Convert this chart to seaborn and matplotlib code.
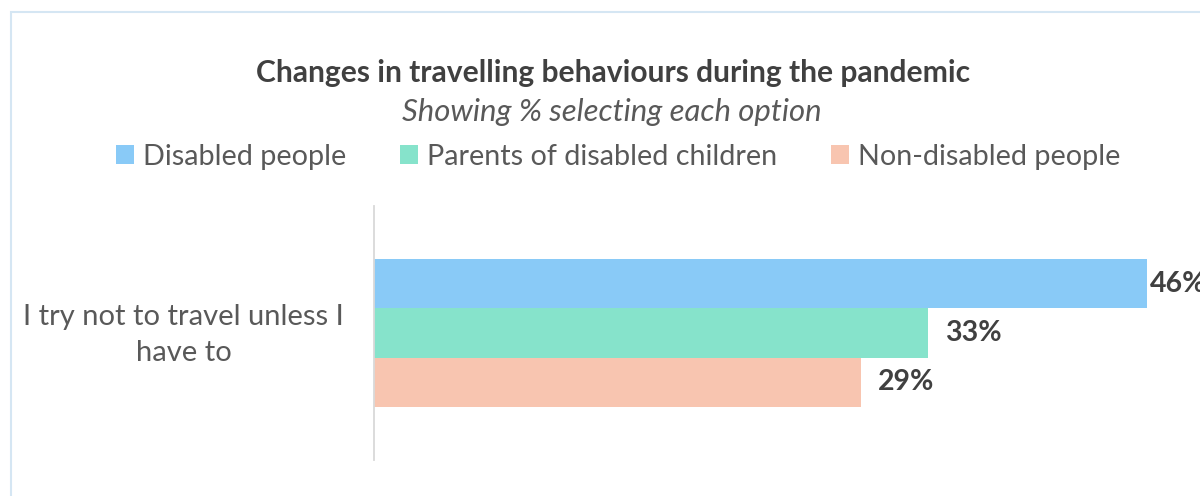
import matplotlib
matplotlib.use("Agg")
import matplotlib.pyplot as plt
from matplotlib.patches import Rectangle
from matplotlib.transforms import ScaledTranslation
import seaborn as sns
import pandas as pd

# Survey data
categories = ["I try not to travel unless I\nhave to"]
groups = ["Disabled people", "Parents of disabled children", "Non-disabled people"]
values = [46, 33, 29]
colors = ["#89CAF7", "#86E3CB", "#F8C5B0"]

title = "Changes in travelling behaviours during the pandemic"
subtitle = "Showing % selecting each option"

df = pd.DataFrame({
    "category": [categories[0]] * len(groups),
    "group": groups,
    "value": values,
})

sns.set_theme(style="white")
plt.rcParams["font.family"] = ["Lato", "DejaVu Sans"]

W, H = 1200, 496
fig = plt.figure(figsize=(W / 100, H / 100), dpi=100)

# plot area: starts at x=374px, spans from y=206px to y=460px
px_per_unit = 16.8
ax = fig.add_axes([374 / W, (H - 460) / H, (W - 374) / W, 254 / H])

sns.barplot(data=df, y="category", x="value", hue="group", hue_order=groups,
            palette=colors, orient="h", width=0.58, saturation=1,
            edgecolor="none", linewidth=0, ax=ax)

ax.set_xlim(0, (W - 374) / px_per_unit)
ax.set_ylim(0.5, -0.5)
ax.set_xlabel("")
ax.set_ylabel("")
ax.set_xticks([])
for side in ["top", "right", "bottom"]:
    ax.spines[side].set_visible(False)
ax.spines["left"].set_color("#D9D9D9")
ax.spines["left"].set_linewidth(1.3)

ax.tick_params(axis="y", length=0, pad=137, labelsize=21, labelcolor="#595959")
lift = ScaledTranslation(0, 6 / 100, fig.dpi_scale_trans)
for lab in ax.get_yticklabels():
    lab.set_ha("center")
    lab.set_multialignment("center")
    lab.set_linespacing(1.5)
    lab.set_transform(lab.get_transform() + lift)

# value labels
pads = [2, 12, 12]
for cont, pad in zip(ax.containers, pads):
    ax.bar_label(cont, fmt="{:.0f}%", padding=pad, fontsize=20.5,
                 fontweight="bold", color="#404040", clip_on=False)

# legend row beneath the subtitle
sns.move_legend(ax, loc="center", bbox_to_anchor=(618 / W, 1 - 157 / H),
                bbox_transform=fig.transFigure, ncol=3, frameon=False,
                title=None, fontsize=20.7, handlelength=0.63, handleheight=0.63,
                handletextpad=0.32, columnspacing=1.86)
for t in ax.get_legend().get_texts():
    t.set_color("#595959")

fig.text(613 / W, 1 - 73 / H, title, ha="center", va="center",
         fontsize=21.6, fontweight="bold", color="#404040")
fig.text(612 / W, 1 - 112 / H, subtitle, ha="center", va="center",
         fontsize=22.4, style="italic", color="#595959")

# chart frame
fig.patches.append(Rectangle((11 / W, -0.1), 1.2, 1 - 12 / H + 0.1,
                             transform=fig.transFigure, fill=False,
                             edgecolor="#D5E6F3", linewidth=1.5, zorder=0))

fig.savefig("out.png", dpi=100)
